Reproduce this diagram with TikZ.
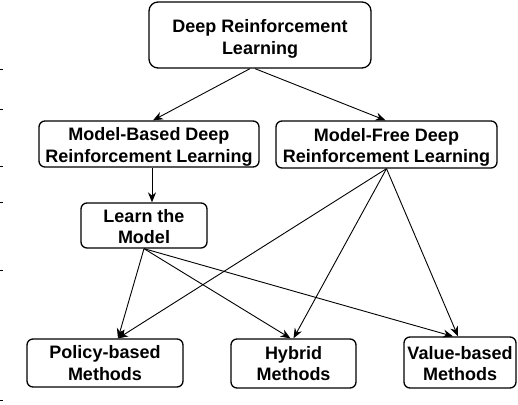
\documentclass[tikz,border=0pt]{standalone}
\usepackage{fontspec}
\setmainfont{Liberation Sans}
\usetikzlibrary{arrows.meta}
\begin{document}
\begin{tikzpicture}[x=1pt,y=-1pt,
  box/.style={draw,line width=1.3pt,rounded corners=6pt,align=center,inner sep=0pt,
    font=\fontsize{18}{21.5}\selectfont\bfseries},
  conn/.style={line width=0.9pt,-{Stealth[length=10pt,width=8pt]}},
  tick/.style={line width=0.8pt}]
\useasboundingbox (0,0) rectangle (518,404);
\node[box,rounded corners=9pt,minimum width=222pt,minimum height=66pt] (top) at (260,35) {\rule{0pt}{21pt}Deep Reinforcement\\Learning};
\node[box,minimum width=220pt,minimum height=46pt] (mb) at (149,144) {\rule{0pt}{19pt}Model-Based Deep\\Reinforcement Learning};
\node[box,minimum width=221pt,minimum height=47pt] (mf) at (386.5,144.5) {\rule{0pt}{19pt}Model-Free Deep\\Reinforcement Learning};
\node[box,minimum width=126pt,minimum height=45pt] (lm) at (144,225.5) {\rule{0pt}{15pt}Learn the\\Model};
\node[box,minimum width=156pt,minimum height=48pt] (pb) at (105,363) {Policy-based\\Methods};
\node[box,minimum width=125pt,minimum height=49pt] (hy) at (293.5,363.5) {Hybrid\\Methods};
\node[box,minimum width=112pt,minimum height=51pt] (vb) at (460,362.5) {\rule{0pt}{15pt}Value-based\\Methods};
\draw[conn] ([xshift=-10pt]top.south) -- ([xshift=4pt]mb.north);
\draw[conn] ([xshift=-5pt]top.south) -- ([xshift=-1pt]mf.north);
\draw[conn] ([xshift=3pt]mb.south) -- ([xshift=8pt]lm.north);
\draw[conn] (mf.south) -- ([xshift=13pt]pb.north);
\draw[conn] (mf.south) -- (hy.north);
\draw[conn] (mf.south) -- ([xshift=-2pt]vb.north);
\draw[conn] (lm.south) -- ([xshift=13pt]pb.north);
\draw[conn] (lm.south) -- ([xshift=-3pt]hy.north);
\draw[conn] (lm.south) -- ([xshift=-7pt]vb.north);
\foreach \yy in {69,109,166,202,270,400} \draw[tick] (0,\yy) -- (2.5,\yy);
\end{tikzpicture}
\end{document}
